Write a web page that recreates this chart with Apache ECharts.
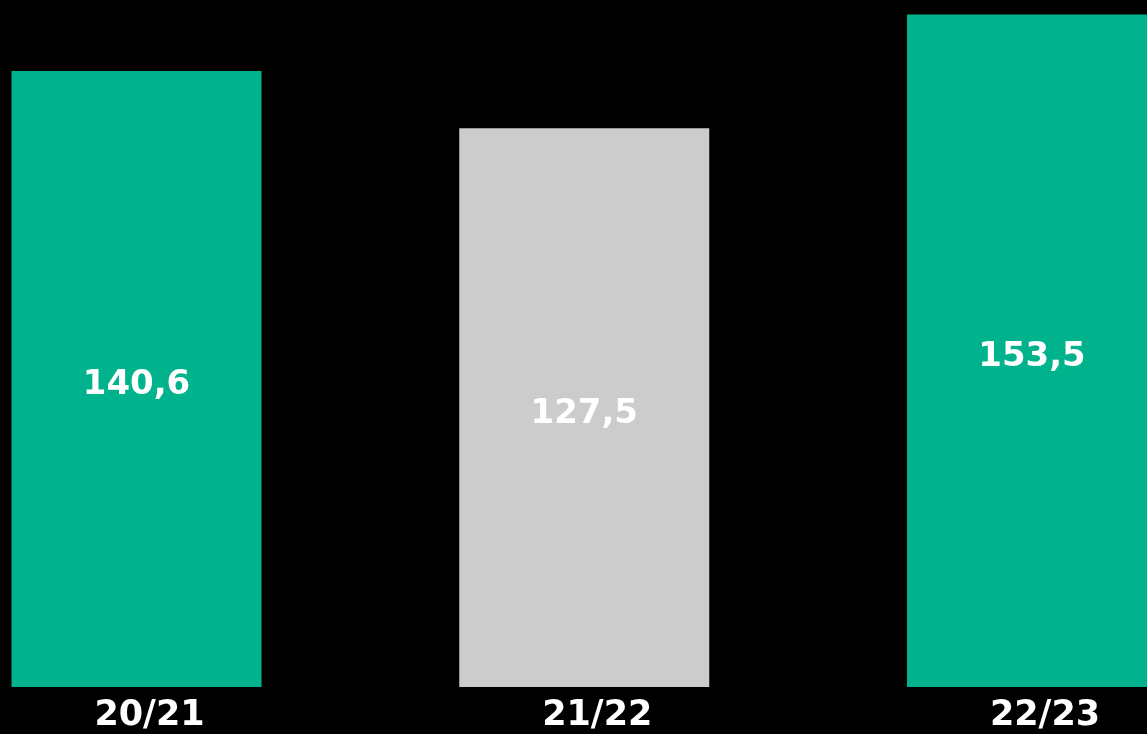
<!DOCTYPE html>
<html><head><meta charset="utf-8">
<script src="https://cdn.jsdelivr.net/npm/echarts@6/dist/echarts.min.js"></script>
<style>html,body{margin:0;padding:0;background:#000;}#c{width:1147px;height:734px;}</style>
</head><body><div id="c"></div>
<script>
const categories = ['20/21', '21/22', '22/23'];
const values = [140.6, 127.5, 153.5];
const barColors = ['#00B38D', '#CCCCCC', '#00B38D'];

const chart = echarts.init(document.getElementById('c'));
chart.setOption({
  backgroundColor: '#000000',
  animation: false,
  grid: { left: 136.5, right: 115, top: 0, bottom: 47 },
  xAxis: {
    type: 'category', data: categories, boundaryGap: false,
    axisLine: { show: false }, axisTick: { show: false }, splitLine: { show: false },
    axisLabel: { color: '#ffffff', fontFamily: 'DejaVu Sans', fontWeight: 'bold', fontSize: 35, margin: 11, padding: [0, 0, 0, 26] }
  },
  yAxis: { type: 'value', min: 0, max: 156.8, show: false, splitLine: { show: false } },
  series: [{
    type: 'bar', barWidth: 250, clip: false,
    data: values.map((v, i) => ({ value: v, itemStyle: { color: barColors[i] } })),
    label: {
      show: true, position: 'inside', color: '#ffffff', offset: [0, 6],
      fontFamily: 'DejaVu Sans', fontWeight: 'bold', fontSize: 34,
      formatter: p => p.value.toFixed(1).replace('.', ',')
    }
  }]
});
</script></body></html>
